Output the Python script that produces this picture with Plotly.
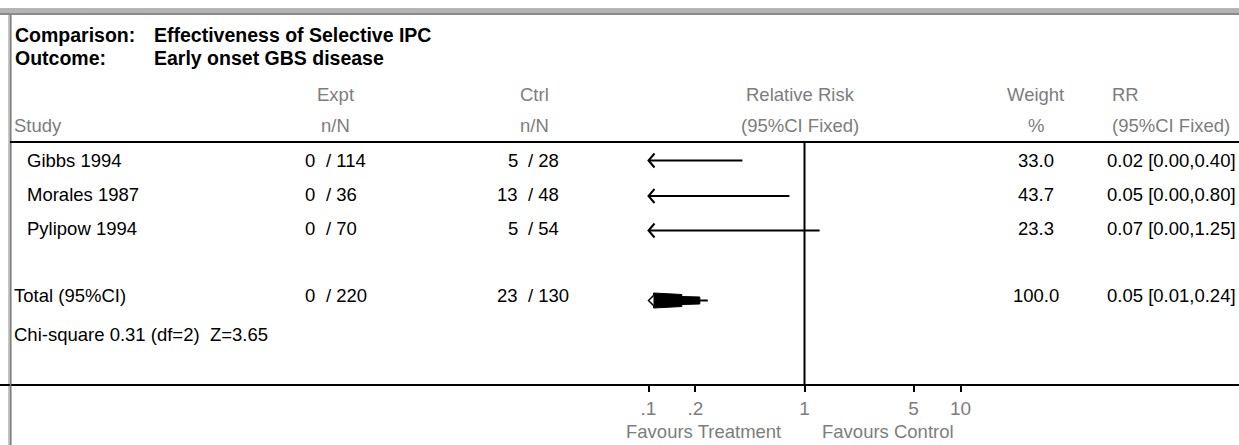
import plotly.graph_objects as go

# ---------------- data ----------------
comparison = "Effectiveness of Selective IPC"
outcome = "Early onset GBS disease"
studies = ["Gibbs 1994", "Morales 1987", "Pylipow 1994"]
expt_n = [0, 0, 0]
expt_N = [114, 36, 70]
ctrl_n = [5, 13, 5]
ctrl_N = [28, 48, 54]
weights = [33.0, 43.7, 23.3]
rr = [0.02, 0.05, 0.07]
rr_lo = [0.00, 0.00, 0.00]
rr_hi = [0.40, 0.80, 1.25]
total_label = "Total (95%CI)"
total_expt = (0, 220)
total_ctrl = (23, 130)
total_weight = 100.0
total_rr = (0.05, 0.01, 0.24)
chi_square, chi_df, z_value = 0.31, 2, 3.65
tick_vals = [0.1, 0.2, 1, 5, 10]
tick_text = [".1", ".2", "1", "5", "10"]
scale_min, scale_max = 0.1, 10
favours_left = "Favours Treatment"
favours_right = "Favours Control"

# ---------------- layout constants ----------------
W, H = 1239, 445
X_ONE = 804.5          # pixel of RR = 1
DEC = 156.0            # pixels per decade
AXIS_Y = 385           # pixel of the x axis line
HEAD_LINE_Y = 142
row_line_y = [160.5, 196, 230.5]
total_line_y = 300.5
row_text_y = [160, 194.5, 228]
total_text_y = 295.5
chi_text_y = 334
FONT = "Liberation Sans, Arial, sans-serif"
FS = 18.5
GRAY = "#7d7d7d"

x_range = [-X_ONE / DEC, (W - X_ONE) / DEC]

fig = go.Figure()
ann = []
shapes = []


def txt(s, px, py, anchor="left", color="black", size=FS):
    ann.append(dict(text=s, x=px / W, y=py, xref="paper", yref="y",
                    xanchor=anchor, yanchor="middle", showarrow=False,
                    font=dict(family=FONT, size=size, color=color)))


def hline(y, x0, x1, color="black", width=2):
    shapes.append(dict(type="line", xref="paper", yref="y", x0=x0 / W, x1=x1 / W,
                       y0=y, y1=y, line=dict(color=color, width=width)))


# frame (window border)
shapes.append(dict(type="rect", xref="paper", yref="y", x0=0, x1=1, y0=8, y1=15,
                   fillcolor="#b4b4b4", line=dict(width=0), layer="below"))
hline(14, 0, W, color="#7c7c7c", width=1.5)
shapes.append(dict(type="rect", xref="paper", yref="y", x0=8 / W, x1=12 / W, y0=15, y1=H,
                   fillcolor="#c8c8c8", line=dict(width=0), layer="below"))
shapes.append(dict(type="line", xref="paper", yref="y", x0=10.5 / W, x1=10.5 / W, y0=15, y1=H,
                   line=dict(color="#808080", width=1.5)))

# header separator
hline(HEAD_LINE_Y, 10, W, width=2)

# titles
TS = 19.5
txt("<b>Comparison:</b>", 13, 35, size=TS)
txt("<b>%s</b>" % comparison, 152, 35, size=TS)
txt("<b>Outcome:</b>", 13, 58, size=TS)
txt("<b>%s</b>" % outcome, 152, 58, size=TS)

# column headers
txt("Expt", 335, 94, "center", GRAY)
txt("n/N", 335, 125, "center", GRAY)
txt("Ctrl", 534, 94, "center", GRAY)
txt("n/N", 534, 125, "center", GRAY)
txt("Relative Risk", 800, 94, "center", GRAY)
txt("(95%CI Fixed)", 800, 125, "center", GRAY)
txt("Weight", 1035, 94, "center", GRAY)
txt("%", 1036, 125, "center", GRAY)
txt("RR", 1110, 94, "left", GRAY)
txt("(95%CI Fixed)", 1110, 125, "left", GRAY)
txt("Study", 12, 125, "left", GRAY)

# study rows
for i, name in enumerate(studies):
    y = row_text_y[i]
    txt(name, 25, y)
    txt(str(expt_n[i]), 317, y, "right")
    txt("/ %d" % expt_N[i], 324, y)
    txt(str(ctrl_n[i]), 520, y, "right")
    txt("/ %d" % ctrl_N[i], 526, y)
    txt("%.1f" % weights[i], 1036, y, "center")
    txt("%.2f [%.2f,%.2f]" % (rr[i], rr_lo[i], rr_hi[i]), 1105, y)

# total row
txt(total_label, 12, total_text_y)
txt(str(total_expt[0]), 317, total_text_y, "right")
txt("/ %d" % total_expt[1], 324, total_text_y)
txt(str(total_ctrl[0]), 520, total_text_y, "right")
txt("/ %d" % total_ctrl[1], 526, total_text_y)
txt("%.1f" % total_weight, 1036, total_text_y, "center")
txt("%.2f [%.2f,%.2f]" % total_rr, 1105, total_text_y)
txt("Chi-square %.2f (df=%d)  Z=%.2f" % (chi_square, chi_df, z_value), 12, chi_text_y)

# favours labels
txt(favours_left, 783, 431, "right", GRAY)
txt(favours_right, 820, 431, "left", GRAY)

# ---------------- forest marks ----------------
arrow_k = 10 ** (6 / DEC)   # arrowhead depth factor (6 px)
arrow_h = 7                 # arrowhead half height (px)

for i in range(len(studies)):
    y = row_line_y[i]
    left = rr_lo[i] if rr_lo[i] >= scale_min else scale_min
    right = min(rr_hi[i], scale_max)
    fig.add_trace(go.Scatter(x=[left, right], y=[y, y], mode="lines",
                             line=dict(color="black", width=2), hoverinfo="skip"))
    if rr_lo[i] < scale_min:
        fig.add_trace(go.Scatter(x=[scale_min * arrow_k, scale_min, scale_min * arrow_k],
                                 y=[y - arrow_h, y, y + arrow_h], mode="lines",
                                 line=dict(color="black", width=2), hoverinfo="skip"))

# pooled estimate: diamond clipped at the scale minimum
est, lo, hi = total_rr
yt = total_line_y
clip = scale_min * 10 ** (5 / DEC)
tip_x = hi * 10 ** (-8 / DEC)
mid_x = hi * 10 ** (-26 / DEC)
fig.add_trace(go.Scatter(x=[clip, mid_x, mid_x, tip_x, tip_x, mid_x, mid_x, clip, clip],
                         y=[yt - 7.5, yt - 6, yt - 4, yt - 3.5, yt + 3.5, yt + 4, yt + 6,
                            yt + 7.5, yt - 7.5],
                         mode="lines", fill="toself", fillcolor="black",
                         line=dict(color="black", width=1), hoverinfo="skip"))
fig.add_trace(go.Scatter(x=[tip_x, hi], y=[yt, yt], mode="lines",
                         line=dict(color="black", width=2), hoverinfo="skip"))
# off-scale arrow tip on the pooled estimate
fig.add_trace(go.Scatter(x=[clip, scale_min, clip], y=[yt - 5, yt, yt + 5], mode="lines",
                         fill="toself", fillcolor="white",
                         line=dict(color="black", width=1.5), hoverinfo="skip"))

# line of no effect
fig.add_trace(go.Scatter(x=[1, 1], y=[HEAD_LINE_Y, AXIS_Y], mode="lines",
                         line=dict(color="black", width=2), hoverinfo="skip"))

fig.update_layout(
    width=W, height=H, margin=dict(l=0, r=0, t=0, b=0, pad=0),
    paper_bgcolor="white", plot_bgcolor="white", showlegend=False,
    annotations=ann, shapes=shapes,
    xaxis=dict(type="log", range=x_range, anchor="free", position=(H - AXIS_Y) / H,
               showline=True, linecolor="black", linewidth=2,
               ticks="outside", ticklen=6, tickwidth=2, tickcolor="black",
               tickvals=tick_vals, ticktext=tick_text, showgrid=False, zeroline=False,
               tickfont=dict(family=FONT, size=19, color=GRAY), fixedrange=True),
    yaxis=dict(range=[H, 0], visible=False, fixedrange=True, showgrid=False, zeroline=False),
)

fig.write_html("out.html", config={"displayModeBar": False},
               post_script="document.body.style.margin='0';document.body.style.overflow='hidden';")
